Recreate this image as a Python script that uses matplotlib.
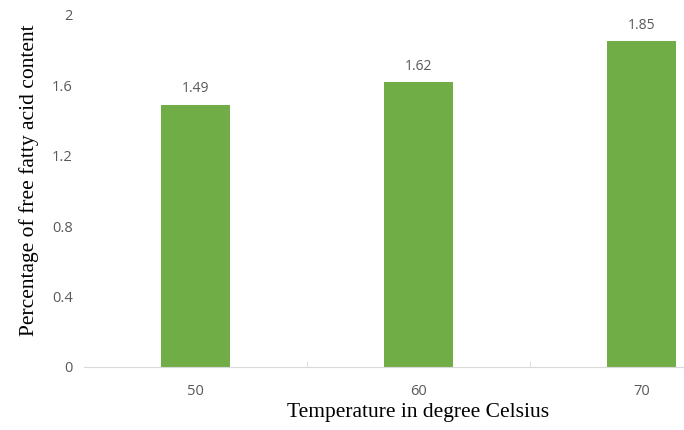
import matplotlib
matplotlib.use('Agg')
from matplotlib import pyplot as plt

temps = ['50', '60', '70']
ffa = [1.49, 1.62, 1.85]
yticks = [0, 0.4, 0.8, 1.2, 1.6, 2]
ytick_labels = ['0', '0.4', '0.8', '1.2', '1.6', '2']

fig = plt.figure(figsize=(6.84, 4.30), dpi=100)
# axes runs past the right edge like the cropped original
ax = fig.add_axes([84/684, 63/430, 669/684, 352/430])

x = list(range(len(temps)))
ax.bar(x, ffa, width=0.31, color='#70AD47', zorder=2)
for xi, v in zip(x, ffa):
    ax.annotate(f'{v:.2f}', xy=(xi, v), xytext=(0, 6), textcoords='offset points',
                ha='center', va='bottom', fontsize=10, color='#595959', family='Open Sans')

ax.set_xlim(-0.5, 2.5)
ax.set_ylim(0, 2)
ax.set_yticks(yticks)
ax.set_yticklabels(ytick_labels)
ax.set_xticks(x)
ax.set_xticklabels(temps)
ax.set_xticks([0.5, 1.5], minor=True)
ax.tick_params(axis='x', which='major', length=0, pad=12, labelsize=10.5, labelcolor='#595959')
ax.tick_params(axis='x', which='minor', length=4, direction='in', color='#d9d9d9')
ax.tick_params(axis='y', length=0, pad=8, labelsize=10.5, labelcolor='#595959')
for lbl in ax.get_xticklabels() + ax.get_yticklabels():
    lbl.set_family('Open Sans')

for s in ['left', 'right', 'top']:
    ax.spines[s].set_visible(False)
ax.spines['bottom'].set_color('#d9d9d9')

ax.set_xlabel('Temperature in degree Celsius', family='Liberation Serif', fontsize=15.5, labelpad=3)
ax.set_ylabel('Percentage of free fatty acid content', family='Liberation Serif', fontsize=15.5)
ax.yaxis.set_label_coords(-0.067, 0.53)

plt.savefig('out.png', dpi=100)
